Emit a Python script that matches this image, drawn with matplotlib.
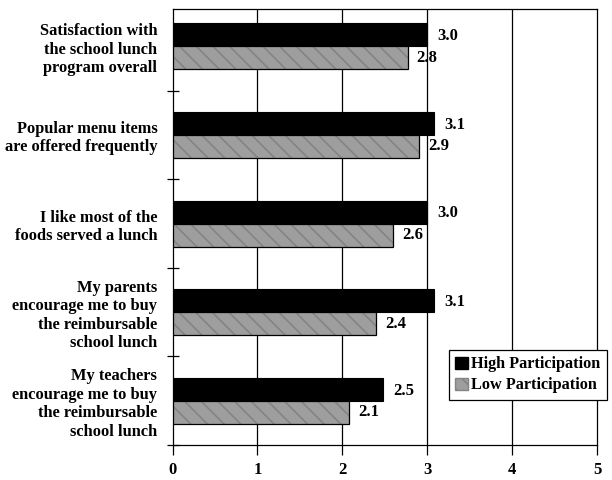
import matplotlib
matplotlib.use("Agg")
import matplotlib.pyplot as plt
import numpy as np
from matplotlib.patches import Patch

categories = [
    "Satisfaction with\nthe school lunch\nprogram overall",
    "Popular menu items\nare offered frequently",
    "I like most of the\nfoods served a lunch",
    "My parents\nencourage me to buy\nthe reimbursable\nschool lunch",
    "My teachers\nencourage me to buy\nthe reimbursable\nschool lunch",
]
high = [3.0, 3.08, 3.0, 3.08, 2.48]
low = [2.77, 2.9, 2.6, 2.4, 2.08]
series_names = ["High Participation", "Low Participation"]
xticks = [0, 1, 2, 3, 4, 5]

FONT = "Liberation Serif"
plt.rcParams["font.family"] = [FONT, "DejaVu Serif"]
plt.rcParams["font.weight"] = "bold"
plt.rcParams["hatch.linewidth"] = 1.2

fig = plt.figure(figsize=(6.12, 4.8), dpi=100)
ax = fig.add_axes([172.6 / 612, 1 - 445 / 480, (597 - 172.6) / 612, 436 / 480])

LOW_FACE = "#9e9e9e"
LOW_HATCH = "#848484"

y = np.arange(len(categories))
bh = 0.26
ax.barh(y - bh / 2, high, height=bh, color="black", edgecolor="black", linewidth=0.8, zorder=3)
ax.barh(y + bh / 2, low, height=bh, color=LOW_FACE, edgecolor=LOW_HATCH, hatch="\\\\", linewidth=0, zorder=3)
ax.barh(y + bh / 2, low, height=bh, fill=False, edgecolor="black", linewidth=0.9, zorder=4)

for yi, v in zip(y - bh / 2, high):
    ax.annotate(f"{v:.1f}", (v, yi), xytext=(7.5, -1), textcoords="offset points",
                ha="left", va="center", fontsize=12, fontweight="bold")
for yi, v in zip(y + bh / 2, low):
    ax.annotate(f"{v:.1f}", (v, yi), xytext=(6.5, 0), textcoords="offset points",
                ha="left", va="center", fontsize=12, fontweight="bold")

ax.set_xlim(0, 5)
ax.set_ylim(4.5, 0.5 - 0.922)
ax.set_xticks(xticks)
ax.set_xticklabels([str(t) for t in xticks], fontsize=12, fontweight="bold")
ax.set_yticks(y)
ax.set_yticklabels(categories, fontsize=11.8, fontweight="bold", ha="right", linespacing=1.2)
ax.set_yticks(np.arange(len(categories)) + 0.5, minor=True)
ax.tick_params(axis="y", which="major", length=0, pad=11)
ax.tick_params(axis="y", which="minor", length=9, direction="inout", width=0.9)
ax.tick_params(axis="x", which="major", length=7, direction="out", width=0.9, pad=5)

for gx in xticks[1:-1]:
    ax.axvline(gx, color="black", linewidth=0.9, zorder=1)
for s in ax.spines.values():
    s.set_linewidth(0.9)

handles = [Patch(facecolor="black", edgecolor="black"),
           Patch(facecolor=LOW_FACE, edgecolor=LOW_HATCH, hatch="\\\\")]
leg = fig.legend(handles, series_names, loc="upper left",
                 bbox_to_anchor=(449 / 612, 1 - 350 / 480), frameon=True,
                 fancybox=False, edgecolor="black", framealpha=1,
                 prop={"family": FONT, "weight": "bold", "size": 11.7},
                 handlelength=0.75, handleheight=0.75, handletextpad=0.2,
                 borderpad=0.4, labelspacing=0.3, borderaxespad=0)
leg.get_frame().set_linewidth(0.9)

fig.savefig("out.png", dpi=100)
